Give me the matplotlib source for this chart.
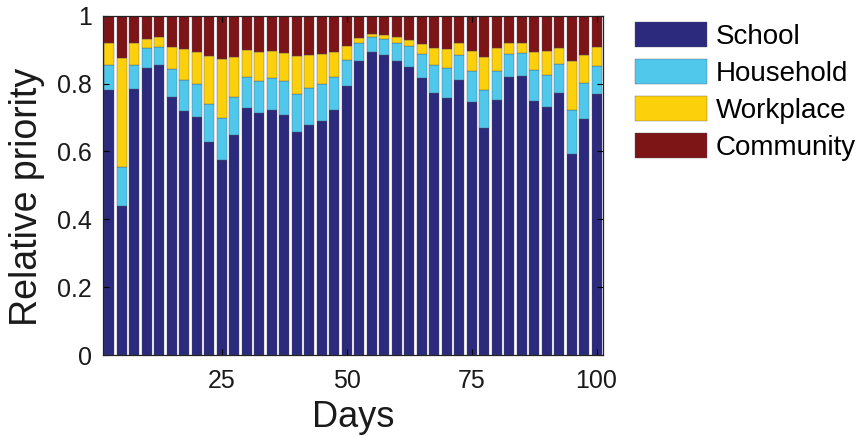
import numpy as np
import matplotlib
matplotlib.use("Agg")
import matplotlib.pyplot as plt

# days (one bar every 2.5 days)
days = [2.5 * (i + 1) for i in range(40)]

# cumulative tops
school_top = [0.780, 0.439, 0.784, 0.845, 0.854, 0.760, 0.719, 0.700, 0.628, 0.575,
              0.649, 0.728, 0.712, 0.722, 0.706, 0.658, 0.677, 0.690, 0.722, 0.792,
              0.866, 0.892, 0.885, 0.867, 0.850, 0.816, 0.771, 0.758, 0.810, 0.745,
              0.670, 0.752, 0.820, 0.823, 0.749, 0.731, 0.773, 0.592, 0.695, 0.769]
household_top = [0.855, 0.553, 0.855, 0.904, 0.908, 0.842, 0.810, 0.798, 0.740, 0.698,
                 0.760, 0.819, 0.809, 0.817, 0.808, 0.770, 0.786, 0.798, 0.819, 0.870,
                 0.920, 0.937, 0.931, 0.920, 0.910, 0.888, 0.855, 0.847, 0.884, 0.836,
                 0.780, 0.836, 0.888, 0.891, 0.840, 0.825, 0.858, 0.723, 0.801, 0.853]
workplace_top = [0.919, 0.874, 0.921, 0.931, 0.936, 0.907, 0.901, 0.893, 0.882, 0.871,
                 0.879, 0.898, 0.894, 0.896, 0.890, 0.880, 0.884, 0.887, 0.893, 0.912,
                 0.934, 0.946, 0.943, 0.936, 0.929, 0.917, 0.905, 0.902, 0.919, 0.896,
                 0.878, 0.904, 0.920, 0.921, 0.892, 0.896, 0.905, 0.866, 0.883, 0.907]

labels = ["School", "Household", "Workplace", "Community"]
colors = ["#2b2a7c", "#50c8eb", "#fcd00a", "#7d1416"]

plt.rcParams['font.family'] = ['Liberation Sans', 'DejaVu Sans']

s = np.array(school_top)
h = np.array(household_top)
w = np.array(workplace_top)
layers = [s, h - s, w - h, 1.0 - w]

fig = plt.figure(figsize=(8.59, 4.36), dpi=100)
ax = fig.add_axes([103 / 859, 81 / 436, 500 / 859, 339.3 / 436])

bottom = np.zeros(len(days))
for vals, lab, col in zip(layers, labels, colors):
    ax.bar(days, vals, width=2.0, bottom=bottom, color=col, label=lab,
           edgecolor=(0.3, 0.3, 0.4), linewidth=0.25)
    bottom = bottom + vals

ax.set_xlim(1.2, 101.3)
ax.set_ylim(0, 1)
ax.set_xticks([25, 50, 75, 100])
ax.set_yticks([0, 0.2, 0.4, 0.6, 0.8, 1.0])
ax.set_yticklabels(["0", "0.2", "0.4", "0.6", "0.8", "1"])
ax.tick_params(direction='in', length=4, width=0.8, top=True, right=True,
               labelsize=18, pad=8, colors='k', labelcolor='#1a1a1a')
ax.tick_params(axis='x', pad=10)
for sp in ax.spines.values():
    sp.set_linewidth(0.9)
    sp.set_color('#222222')

ax.set_xlabel("Days", fontsize=26, labelpad=5, color='#1a1a1a')
ax.set_ylabel("Relative priority", fontsize=27, color='#1a1a1a')
ax.yaxis.set_label_coords(-0.115, 0.465)

ax.legend(loc='upper left', bbox_to_anchor=(635 / 859, 414 / 436),
          bbox_transform=fig.transFigure, frameon=False, fontsize=20,
          handlelength=2.6, handleheight=1.0, labelspacing=0.33,
          handletextpad=0.3, borderpad=0, borderaxespad=0)

fig.savefig("out.png", dpi=100)
